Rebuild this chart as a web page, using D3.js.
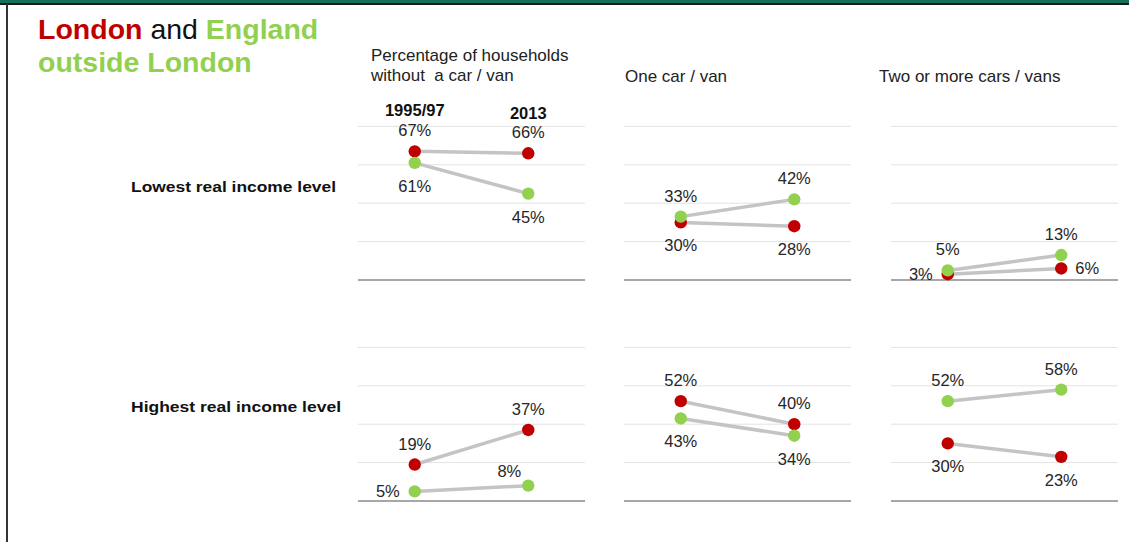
<!DOCTYPE html>
<html>
<head>
<meta charset="utf-8">
<script src="https://cdn.jsdelivr.net/npm/d3@7"></script>
<style>
  html, body { margin: 0; padding: 0; background: #fff; }
  svg { display: block; font-family: "Liberation Sans", Arial, sans-serif; }
</style>
</head>
<body>
<svg id="chart" width="1129" height="542"></svg>
<script>
// ---------------- DATA ----------------
const years = ["1995/97", "2013"];
const seriesNames = ["London", "England outside London"];
const incomeLevels = ["Lowest real income level", "Highest real income level"];
const carGroups = ["Percentage of households|without  a car / van", "One car / van", "Two or more cars / vans"];
// values per car group: [1995/97, 2013]
const londonLowest   = [[67, 66], [30, 28], [3, 6]];
const englandLowest  = [[61, 45], [33, 42], [5, 13]];
const londonHighest  = [[19, 37], [52, 40], [30, 23]];
const englandHighest = [[5, 8],   [43, 34], [52, 58]];
const gridTicks = [20, 40, 60, 80];

// ---------------- LAYOUT (not data) ----------------
const W = 1129, H = 542;
const colors = { London: "#C00000", England: "#92D050" };
const panelLeft = [358, 624, 891];
const panelWidth = 227;
const rowBase = [280, 501];
const pxPerPct = 1.92;
// label placement per row, per panel, [London, England], per year
const placement = [
  [ [["above","above"],["below","below"]],
    [["below","below"],["above","above"]],
    [["left","right"],["above","above"]] ],
  [ [["above","above"],["left","upleft"]],
    [["above","above"],["below","below"]],
    [["below","below"],["above","above"]] ]
];

const svg = d3.select("#chart");
svg.append("rect").attr("width", W).attr("height", H).attr("fill", "#fff");

// frame: top band and left border
svg.append("rect").attr("x", 0).attr("y", 0).attr("width", W).attr("height", 3).attr("fill", "#13705a");
svg.append("rect").attr("x", 0).attr("y", 3).attr("width", W).attr("height", 2).attr("fill", "#1a1a1a");
svg.append("rect").attr("x", 6).attr("y", 4).attr("width", 2).attr("height", H).attr("fill", "#333");

// title
const title = svg.append("text").attr("x", 38).attr("y", 39)
  .attr("font-size", 28.5).attr("font-weight", "bold");
title.append("tspan").attr("fill", colors.London).text("London");
title.append("tspan").attr("fill", "#111").attr("font-weight", "normal").text(" and ");
title.append("tspan").attr("fill", colors.England).text("England");
svg.append("text").attr("x", 38).attr("y", 72)
  .attr("font-size", 28.5).attr("font-weight", "bold").attr("fill", colors.England)
  .text("outside London");

// column titles
const colTitleX = [371, 625, 879];
carGroups.forEach((g, i) => {
  const lines = g.split("|");
  const t = svg.append("text").attr("font-size", 17).attr("fill", "#222");
  lines.forEach((ln, k) => {
    t.append("tspan").attr("x", colTitleX[i])
      .attr("y", lines.length === 2 ? 61 + k * 20 : 82)
      .attr("xml:space", "preserve").text(ln);
  });
});

// row labels
const rowLabelY = [192, 412];
incomeLevels.forEach((r, i) => {
  svg.append("text").attr("x", 131).attr("y", rowLabelY[i])
    .attr("font-size", 15.5).attr("font-weight", "bold").attr("fill", "#111")
    .attr("textLength", i === 0 ? 205 : 210).attr("lengthAdjust", "spacingAndGlyphs")
    .text(r);
});

const x = d3.scalePoint().domain(years).range([panelWidth * 0.25, panelWidth * 0.75]);
const y = d3.scaleLinear().domain([0, 80]).range([0, -80 * pxPerPct]);

const rowData = [
  [londonLowest, englandLowest],
  [londonHighest, englandHighest]
];

rowData.forEach((pair, ri) => {
  carGroups.forEach((g, ci) => {
    const gp = svg.append("g")
      .attr("transform", `translate(${panelLeft[ci]},${rowBase[ri]})`);
    // gridlines
    gp.selectAll("line.grid").data(gridTicks).enter().append("line")
      .attr("x1", 0).attr("x2", panelWidth)
      .attr("y1", d => y(d)).attr("y2", d => y(d))
      .attr("stroke", "#e3e3e3").attr("stroke-width", 1);
    // baseline
    gp.append("line").attr("x1", 0).attr("x2", panelWidth)
      .attr("y1", y(0)).attr("y2", y(0))
      .attr("stroke", "#8a8a8a").attr("stroke-width", 1.5);

    const seriesVals = [
      { key: "London", vals: pair[0][ci], place: placement[ri][ci][0] },
      { key: "England", vals: pair[1][ci], place: placement[ri][ci][1] }
    ];
    // connecting lines
    seriesVals.forEach(s => {
      gp.append("line")
        .attr("x1", x(years[0])).attr("y1", y(s.vals[0]))
        .attr("x2", x(years[1])).attr("y2", y(s.vals[1]))
        .attr("stroke", "#c4c4c4").attr("stroke-width", 3.5)
        .attr("stroke-linecap", "round");
    });
    // dots
    seriesVals.forEach(s => {
      gp.selectAll(null).data(s.vals).enter().append("circle")
        .attr("cx", (d, i) => x(years[i])).attr("cy", d => y(d))
        .attr("r", 6.2).attr("fill", colors[s.key]);
    });
    // labels
    seriesVals.forEach(s => {
      s.vals.forEach((v, i) => {
        const cx = x(years[i]), cy = y(v);
        const pl = s.place[i];
        let tx = cx, ty = cy, anchor = "middle";
        if (pl === "above") { ty = cy - 15; }
        else if (pl === "below") { ty = cy + 29; }
        else if (pl === "left") { tx = cx - 15; ty = cy + 6; anchor = "end"; }
        else if (pl === "right") { tx = cx + 14; ty = cy + 6; anchor = "start"; }
        else if (pl === "upleft") { tx = cx - 7; ty = cy - 9; anchor = "end"; }
        gp.append("text").attr("x", tx).attr("y", ty)
          .attr("text-anchor", anchor).attr("font-size", 16.5).attr("fill", "#262626")
          .text(v + "%");
      });
    });
    // year headers in first panel
    if (ri === 0 && ci === 0) {
      const yh = [-164, -161];
      years.forEach((yr, i) => {
        gp.append("text").attr("x", x(yr)).attr("y", yh[i])
          .attr("text-anchor", "middle").attr("font-size", 16.5)
          .attr("font-weight", "bold").attr("fill", "#111").text(yr);
      });
    }
  });
});
</script>
</body>
</html>
